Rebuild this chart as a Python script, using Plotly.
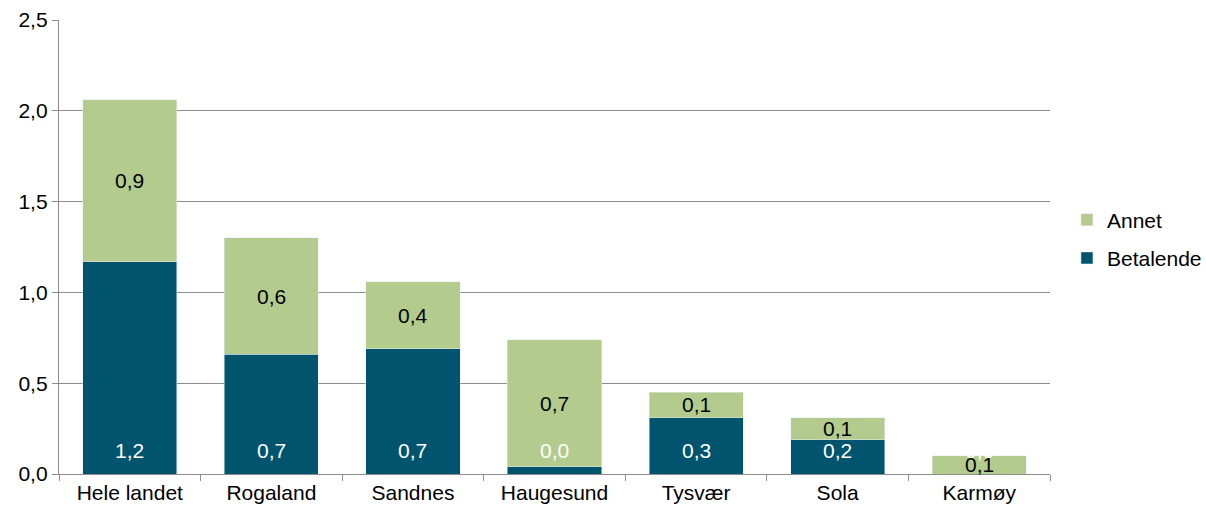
import plotly.graph_objects as go

categories = ["Hele landet", "Rogaland", "Sandnes", "Haugesund", "Tysvær", "Sola", "Karmøy"]
betalende = [1.17, 0.66, 0.69, 0.04, 0.31, 0.19, 0.0]
annet = [0.89, 0.64, 0.37, 0.70, 0.14, 0.12, 0.10]
y_ticks = [0.0, 0.5, 1.0, 1.5, 2.0, 2.5]

C_BET = "#00546E"
C_ANN = "#B3CB8D"
FONT = "Liberation Sans, Arial, sans-serif"
FS = 21

def fmt(v):
    return f"{v:.1f}".replace(".", ",")

fig = go.Figure()
fig.add_trace(go.Bar(name="Betalende", x=categories, y=betalende, marker_color=C_BET,
                     legendgroup="b", legendrank=2, hoverinfo="skip"))
fig.add_trace(go.Bar(name="Annet", x=categories, y=annet, marker_color=C_ANN,
                     legendgroup="a", legendrank=1, hoverinfo="skip"))

annotations = []
for c, b in zip(categories, betalende):
    annotations.append(dict(x=c, y=0, text=fmt(b), showarrow=False, yanchor="bottom",
                            yshift=10, font=dict(color="white", size=FS, family=FONT)))
for c, b, a in zip(categories, betalende, annet):
    annotations.append(dict(x=c, y=b + a / 2, text=fmt(a), showarrow=False, yanchor="middle",
                            font=dict(color="black", size=FS, family=FONT)))

fig.update_layout(
    barmode="stack",
    bargap=0.335,
    width=1206, height=511,
    margin=dict(l=59, r=156, t=20, b=37),
    paper_bgcolor="white", plot_bgcolor="white",
    separators=", ",
    font=dict(family=FONT, size=FS, color="black"),
    annotations=annotations,
    showlegend=True,
    legend=dict(traceorder="grouped", xref="container", yref="container",
                x=0.8847, xanchor="left", y=1 - 239 / 511, yanchor="middle",
                font=dict(size=FS, family=FONT), tracegroupgap=8,
                itemwidth=30, bgcolor="rgba(0,0,0,0)"),
    xaxis=dict(type="category", showline=True, linecolor="#8C8C8C", linewidth=1.3,
               ticks="outside", tickson="boundaries", ticklen=6, tickcolor="#8C8C8C",
               showgrid=False, tickfont=dict(size=FS, family=FONT), automargin=False),
    yaxis=dict(range=[0, 2.5], tickvals=y_ticks, tickformat=".1f",
               showline=True, linecolor="#8C8C8C", linewidth=1.3,
               ticks="outside", ticklen=6, tickcolor="#8C8C8C",
               showgrid=True, gridcolor="#8C8C8C", gridwidth=1.3,
               zeroline=False, tickfont=dict(size=FS, family=FONT), automargin=False),
)

fig.write_html("out.html", config={"displayModeBar": False},
               post_script="document.body.style.margin='0';document.body.style.padding='0';")
